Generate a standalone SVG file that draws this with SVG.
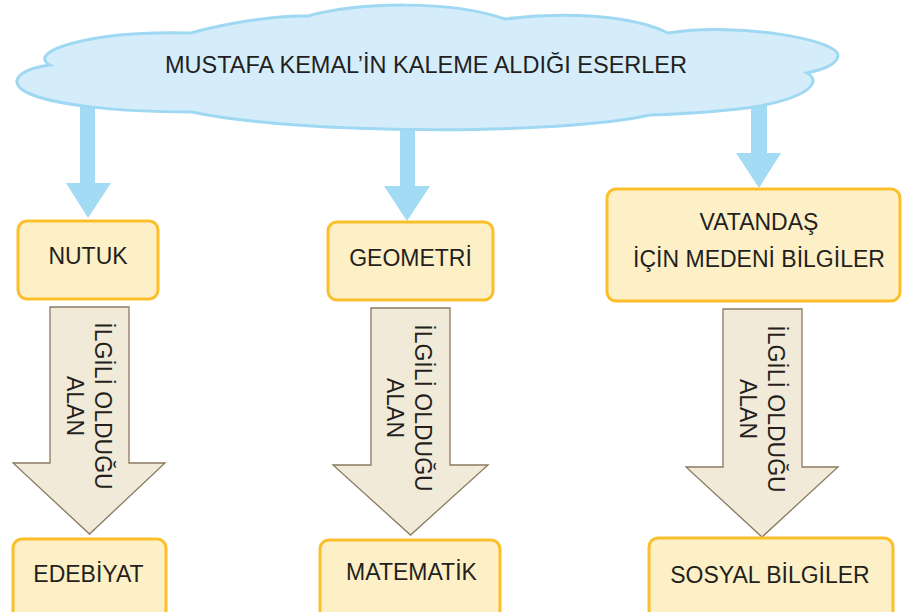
<svg xmlns="http://www.w3.org/2000/svg" width="902" height="612" viewBox="0 0 902 612">
<style>
text{font-family:"Liberation Sans",Arial,sans-serif;fill:#231f20;}
.t{font-size:23px;text-anchor:middle;}
.box{fill:#fef0c6;stroke:#fcbf2c;stroke-width:3;}
.blue{fill:#a2dbf3;stroke:none;}
.beige{fill:#f2ead8;stroke:#8a7a60;stroke-width:1.3;stroke-linejoin:miter;}
.cloud{fill:#d5edfa;stroke:#9fd8f2;stroke-width:3;}
</style>
<rect width="902" height="612" fill="#ffffff"/>
<g id="connectors">
  <polygon class="blue" points="80,90 95,90 95,183 111,183 88,218 66,183 80,183"/>
  <polygon class="blue" points="400,100 415,100 415,186 430,186 407,221 384,186 400,186"/>
  <polygon class="blue" points="751,90 767,90 767,153 781,153 759,188 736,153 751,153"/>
  <g id="arrow-edebiyat">
    <polygon class="beige" points="50,307 129,307 129,463 165,463 89.5,534 13,463 50,463"/>
    <text class="t" transform="translate(95,406) rotate(90)">İLGİLİ OLDUĞU</text>
    <text class="t" transform="translate(67,406) rotate(90)">ALAN</text>
  </g>
  <g id="arrow-matematik">
    <polygon class="beige" points="371,308 450,308 450,465 488,465 410.5,535 333,465 371,465"/>
    <text class="t" transform="translate(415,408) rotate(90)">İLGİLİ OLDUĞU</text>
    <text class="t" transform="translate(387,408) rotate(90)">ALAN</text>
  </g>
  <g id="arrow-sosyal">
    <polygon class="beige" points="723,309 802,309 802,467 838,467 762,537 686,467 723,467"/>
    <text class="t" transform="translate(768,409) rotate(90)">İLGİLİ OLDUĞU</text>
    <text class="t" transform="translate(740,409) rotate(90)">ALAN</text>
  </g>
</g>
<g id="cloud">
  <path class="cloud" d="M50,65 C25,52 90,30 191,33 C230,22 280,15 308,16 C360,2 450,0 505,19 C560,12 630,14 668,33 C740,22 840,40 838,56 C836,66 820,70 807,73 C820,80 815,95 760,106 C720,112 680,114 650,115 C560,135 300,135 192,112 C120,112 40,105 20,88 C10,78 25,68 50,65 Z"/>
  <text x="165" y="73" font-size="24" textLength="522" lengthAdjust="spacingAndGlyphs">MUSTAFA KEMAL’İN KALEME ALDIĞI ESERLER</text>
</g>
<g id="nutuk">
  <rect class="box" x="18" y="221" width="140" height="78" rx="9"/>
  <text class="t" x="88" y="264">NUTUK</text>
</g>
<g id="geometri">
  <rect class="box" x="328" y="222" width="165" height="78" rx="9"/>
  <text class="t" x="410.5" y="266">GEOMETRİ</text>
</g>
<g id="vatandas">
  <rect class="box" x="607" y="189" width="293" height="112" rx="9"/>
  <text class="t" x="759" y="230">VATANDAŞ</text>
  <text class="t" x="759" y="267">İÇİN MEDENİ BİLGİLER</text>
</g>
<g id="edebiyat">
  <rect class="box" x="13" y="539" width="153" height="85" rx="9"/>
  <text class="t" x="88.5" y="582">EDEBİYAT</text>
</g>
<g id="matematik">
  <rect class="box" x="320" y="540" width="180" height="85" rx="9"/>
  <text class="t" x="411.5" y="580">MATEMATİK</text>
</g>
<g id="sosyal">
  <rect class="box" x="649" y="538" width="244" height="85" rx="9"/>
  <text class="t" x="770" y="583">SOSYAL BİLGİLER</text>
</g>
</svg>
